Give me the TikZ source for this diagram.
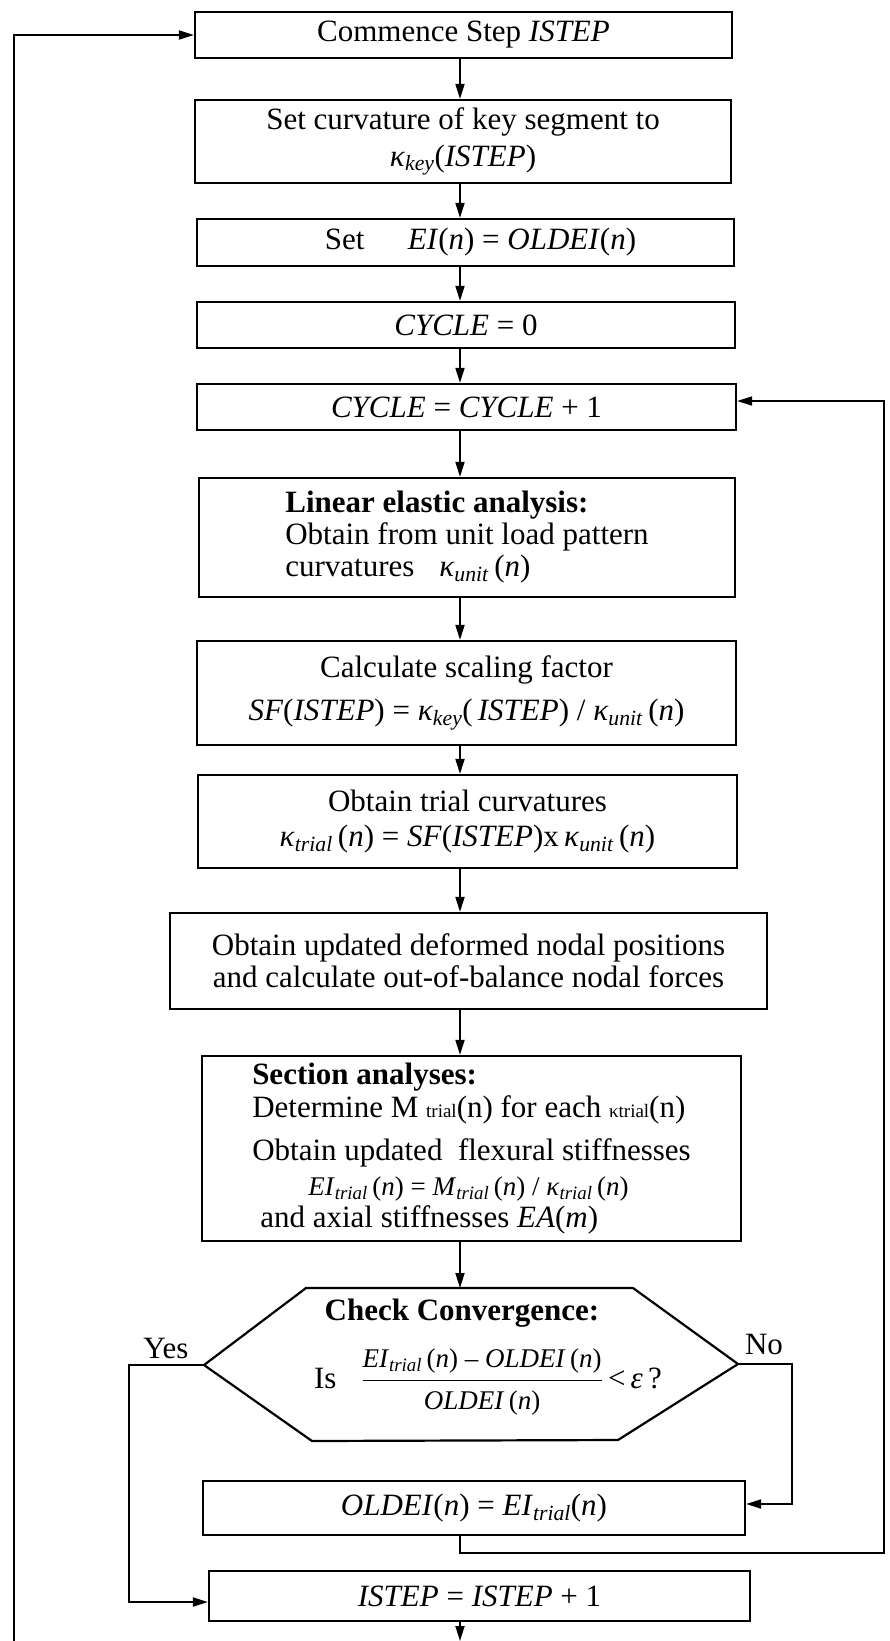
\RequirePackage{fix-cm}
\documentclass[tikz,border=0pt]{standalone}
\usepackage{amsmath}
\usepackage{fontspec}
\setmainfont{Liberation Serif}
\usetikzlibrary{positioning,arrows.meta,calc}
\newcommand{\subit}[1]{\textsubscript{\textit{#1}}}
\newcommand{\bodyfont}{\fontsize{31}{32}\selectfont}
\newcommand{\eqfont}{\fontsize{27}{28}\selectfont}
\newcommand{\tinyfont}{\fontsize{19}{20}\selectfont}

\begin{document}
\begin{tikzpicture}[
  x=1pt, y=-1pt,
  >={Triangle[length=15pt,width=9pt]},
  every node/.style={font=\bodyfont,inner sep=0pt},
  process/.style={draw,line width=2.2pt,align=center},
  flow/.style={->,line width=1.8pt},
  choice/.style={font=\bodyfont}
]

\useasboundingbox (0,0) rectangle (890,1641);

% Start of a step
\node[process,minimum width=537pt,minimum height=46pt] (Start) at (463.5,35)
  {Commence Step \textit{ISTEP}};
\node[process,minimum width=536pt,minimum height=83pt] (Key) at (463,141.5)
  {Set curvature of key segment to\\[5pt] \textit{κ}\subit{key}(\textit{ISTEP})};
\node[process,minimum width=537pt,minimum height=47pt] (SetEI) at (465.5,242.5)
  {\hspace*{30pt}Set\hspace{1.4em}\textit{EI}(\textit{n}) = \textit{OLDEI}(\textit{n})};
\node[process,minimum width=538pt,minimum height=46pt] (Zero) at (466,325)
  {\textit{CYCLE} = 0};
\node[process,minimum width=539pt,minimum height=46pt] (Cycle) at (466.5,407)
  {\textit{CYCLE} = \textit{CYCLE} + 1};

% Cycle body
\node[process,align=left,minimum width=536pt,minimum height=119pt] (Lin) at (467,537.5)
  {\textbf{Linear elastic analysis:}\\
   Obtain from unit load pattern\\
   curvatures\hspace{0.8em}\textit{κ}\subit{unit}\,(\textit{n})};
\node[process,minimum width=539pt,minimum height=104pt] (Scale) at (466.5,693)
  {Calculate scaling factor\\[11pt]
   \textit{SF}(\textit{ISTEP}) = \textit{κ}\subit{key}(\,\textit{ISTEP}) / \textit{κ}\subit{unit}\,(\textit{n})};
\node[process,minimum width=539pt,minimum height=93pt] (Trial) at (467.5,821.5)
  {Obtain trial curvatures\\[3pt]
   \textit{κ}\subit{trial}\,(\textit{n}) = \textit{SF}(\textit{ISTEP})x\,\textit{κ}\subit{unit}\,(\textit{n})};
\node[process,minimum width=597pt,minimum height=96pt] (Nodal) at (468.5,961)
  {Obtain updated deformed nodal positions\\
   and calculate out-of-balance nodal forces};
\node[process,align=left,minimum width=539pt,minimum height=185pt] (Sect) at (471.5,1148.5)
  {\textbf{Section analyses:}\\[1pt]
   Determine M {\tinyfont trial}(n) for each {\tinyfont κtrial}(n)\\[11pt]
   Obtain updated\ \ flexural stiffnesses\\[3pt]
   \hspace*{56pt}{\eqfont\textit{EI}\subit{trial}\,(\textit{n}) = \textit{M}\subit{trial}\,(\textit{n}) / \textit{κ}\subit{trial}\,(\textit{n})}\\
   \hspace*{8pt}and axial stiffnesses \textit{EA}(\textit{m})};

% Convergence check
\coordinate (HL)  at (204,1365);
\coordinate (HTL) at (306,1288);
\coordinate (HTR) at (633,1288);
\coordinate (HR)  at (738,1364);
\coordinate (HBR) at (618,1440);
\coordinate (HBL) at (312,1441);
\draw[line width=2.2pt] (HL) -- (HTL) -- (HTR) -- (HR) -- (HBR) -- (HBL) -- cycle;
\node[font=\bodyfont\bfseries] (Chk) at (462,1313) {Check Convergence:};
\node (Crit) at (488,1382)
  {Is\hspace{0.8em}$\displaystyle\frac{\mbox{\eqfont\textit{EI}\subit{trial}\,(\textit{n}) – \textit{OLDEI}\,(\textit{n})}}{\mbox{\eqfont\textit{OLDEI}\,(\textit{n})}}$\,<\,\textit{ε}\,?};
\node[choice] (Yes) at (166,1348) {Yes};
\node[choice] (No)  at (764,1344) {No};

% Update and next step
\node[process,minimum width=542pt,minimum height=54pt] (Upd) at (474,1508)
  {\textit{OLDEI}(\textit{n}) = \textit{EI}\subit{trial}(\textit{n})};
\node[process,minimum width=541pt,minimum height=50pt] (Next) at (479.5,1596)
  {\textit{ISTEP} = \textit{ISTEP} + 1};

% Helper points for the loops
\coordinate (col)     at (460,0);
\coordinate (yesbend) at (129,1365);
\coordinate (nobend)  at (792,1364);
\coordinate (rbot)    at (884,1553);
\coordinate (rtop)    at (884,401);
\coordinate (lbot)    at (14,1641);
\coordinate (ltop)    at (14,35);

% Main downward flow
\foreach \a/\b in {Start/Key,Key/SetEI,SetEI/Zero,Zero/Cycle,Cycle/Lin,
                   Lin/Scale,Scale/Trial,Trial/Nodal,Nodal/Sect}
  \draw[flow] (\a.south -| col) -- (\b.north -| col);
\draw[flow] (Sect.south -| col) -- (HTL -| col);
\draw[flow] (Next.south -| col) -- (col |- lbot);

% Branches of the check
\draw[flow] (HL) -- (yesbend) |- ([yshift=-6pt]Next.west);
\draw[flow] (HR) -- (nobend) |- ([yshift=4pt]Upd.east);

% Loops back
\draw[flow] (Upd.south -| col) |- (rbot) -- (rtop) -- (rtop -| Cycle.east);
\draw[flow] (lbot) -- (ltop) -- (Start.west);

\end{tikzpicture}
\end{document}
